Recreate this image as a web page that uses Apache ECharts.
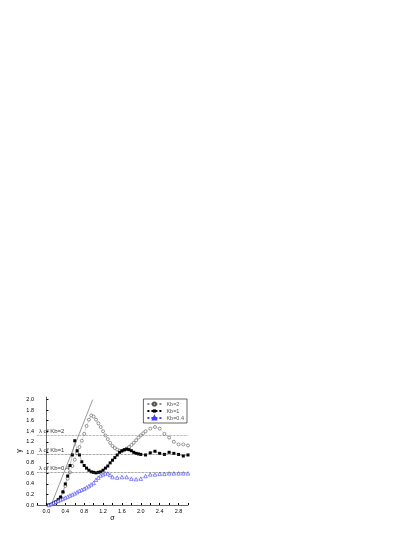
<!DOCTYPE html><html><head><meta charset="utf-8"><script src="https://cdn.jsdelivr.net/npm/echarts@6/dist/echarts.min.js"></script></head><body style="margin:0;background:#fff"><div id="c" style="width:415px;height:537px"></div><script>
const sigmaK2=[0.05,0.1,0.15,0.2,0.25,0.3,0.35,0.4,0.45,0.5,0.55,0.6,0.65,0.7,0.75,0.8,0.85,0.9,0.95,1.0,1.05,1.1,1.15,1.2,1.25,1.3,1.35,1.4,1.45,1.5,1.55,1.6,1.65,1.7,1.75,1.8,1.85,1.9,1.95,2.0,2.05,2.1,2.2,2.3,2.4,2.5,2.6,2.7,2.8,2.9,3.0];
const valK2=[0,0.01,0.03,0.06,0.1,0.15,0.24,0.36,0.5,0.62,0.74,0.86,0.98,1.1,1.22,1.35,1.5,1.62,1.7,1.68,1.62,1.55,1.48,1.4,1.32,1.25,1.18,1.12,1.08,1.05,1.03,1.02,1.04,1.07,1.1,1.14,1.18,1.23,1.28,1.32,1.36,1.4,1.45,1.48,1.45,1.35,1.28,1.2,1.15,1.15,1.13];
const sigmaK1=[0.05,0.1,0.15,0.2,0.25,0.3,0.35,0.4,0.45,0.5,0.55,0.6,0.65,0.7,0.75,0.8,0.85,0.9,0.95,1.0,1.05,1.1,1.15,1.2,1.25,1.3,1.35,1.4,1.45,1.5,1.55,1.6,1.65,1.7,1.75,1.8,1.85,1.9,1.95,2.0,2.1,2.2,2.3,2.4,2.5,2.6,2.7,2.8,2.9,3.0];
const valK1=[0,0.01,0.03,0.06,0.1,0.15,0.25,0.4,0.55,0.75,0.95,1.22,1.03,0.95,0.82,0.75,0.7,0.66,0.63,0.62,0.61,0.62,0.63,0.66,0.7,0.74,0.8,0.85,0.9,0.95,1.0,1.03,1.05,1.06,1.05,1.03,1.0,0.98,0.97,0.96,0.95,0.99,1.02,0.98,0.96,1.0,0.98,0.96,0.93,0.95];
const sigmaK04=[0.05,0.1,0.15,0.2,0.25,0.3,0.35,0.4,0.45,0.5,0.55,0.6,0.65,0.7,0.75,0.8,0.85,0.9,0.95,1.0,1.05,1.1,1.15,1.2,1.25,1.3,1.35,1.4,1.5,1.6,1.7,1.8,1.9,2.0,2.1,2.2,2.3,2.4,2.5,2.6,2.7,2.8,2.9,3.0];
const valK04=[0,0.02,0.04,0.06,0.08,0.1,0.12,0.14,0.16,0.18,0.2,0.22,0.245,0.27,0.29,0.31,0.335,0.36,0.39,0.42,0.48,0.52,0.56,0.58,0.6,0.6,0.57,0.53,0.52,0.53,0.53,0.5,0.49,0.5,0.55,0.58,0.58,0.59,0.59,0.6,0.6,0.6,0.6,0.6];
const lambdaVals=[1.32,0.96,0.62];
const lambdaLabels=['λ of K_b=2','λ of K_b=1','λ of K_b=0.4'];
const lineX=[0.1,0.98],lineY=[0,2.0];
const xTicks=[0,0.4,0.8,1.2,1.6,2.0,2.4,2.8];
const z=(a,b)=>a.map((v,i)=>[v,b[i]]);
const ch=echarts.init(document.getElementById('c'));
const lab={fontSize:6,fontFamily:'Liberation Sans',color:'#000'};
ch.setOption({animation:false,
grid:{left:37,right:227,top:397,bottom:32},
legend:{right:228,top:399,orient:'vertical',itemWidth:14,itemHeight:4,itemGap:1,textStyle:{fontSize:5.5,fontFamily:'Liberation Sans'},backgroundColor:'#fff',borderColor:'#000',borderWidth:0.6,padding:[2,3],
 data:['K_b=2','K_b=1','K_b=0.4'],formatter:n=>n.replace('_b','b')},
xAxis:{type:'value',min:-0.2,max:3.0,interval:0.2,name:'σ',nameLocation:'middle',nameGap:10,nameTextStyle:{fontSize:7},
 axisLine:{onZero:false,lineStyle:{color:'#000',width:0.6}},axisTick:{inside:true,length:2,lineStyle:{color:'#000'}},splitLine:{show:false},
 axisLabel:{fontSize:5.5,color:'#000',margin:3,formatter:v=>xTicks.some(t=>Math.abs(t-v)<1e-6)?v.toFixed(1):''}},
yAxis:{type:'value',min:0,max:2.05,interval:0.2,name:'γ',nameLocation:'middle',nameGap:14,nameTextStyle:{fontSize:7},
 axisLine:{lineStyle:{color:'#000',width:0.6}},axisTick:{inside:true,length:2,lineStyle:{color:'#000'}},splitLine:{show:false},
 axisLabel:{fontSize:5.5,color:'#000',margin:3,formatter:v=>v.toFixed(1),showMaxLabel:false}},
series:[
{name:'K_b=2',type:'line',data:z(sigmaK2,valK2),symbol:'circle',symbolSize:3,itemStyle:{color:'#fff',borderColor:'#555',borderWidth:0.6},lineStyle:{width:0.5,type:'dotted',color:'#888'}},
{name:'K_b=1',type:'line',data:z(sigmaK1,valK1),symbol:'rect',symbolSize:3,itemStyle:{color:'#000'},lineStyle:{width:0.5,type:'dotted',color:'#000'}},
{name:'K_b=0.4',type:'line',data:z(sigmaK04,valK04),symbol:'triangle',symbolSize:3.5,itemStyle:{color:'#fff',borderColor:'#4040ff',borderWidth:0.6},lineStyle:{width:0.5,type:'dotted',color:'#4040ff'}},
{type:'line',data:z(lineX,lineY),symbol:'none',lineStyle:{width:0.6,color:'#555'},silent:true,z:1,
 markLine:{symbol:'none',silent:true,data:lambdaVals.map((v,i)=>({yAxis:v,lineStyle:{color:i==0?'#e04040':'#444',type:'dotted',width:0.7},label:{show:false}}))}},
{type:'scatter',data:lambdaVals.map((v,i)=>[-0.16,v+0.08]),symbolSize:0,silent:true,
 label:{show:true,position:'right',distance:0,...lab,formatter:p=>lambdaLabels[p.dataIndex].replace('_b','b')}}
]});
</script></body></html>
